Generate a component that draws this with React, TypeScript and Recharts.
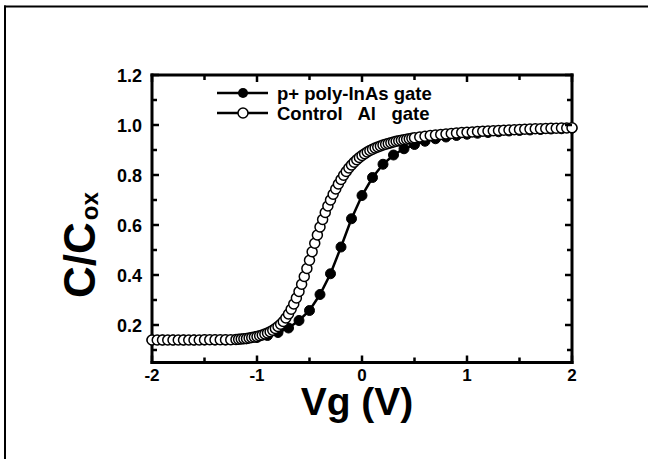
import { LineChart, Line, XAxis, YAxis } from 'recharts';

const FONT = '"Liberation Sans", Arial, Helvetica, sans-serif';

// tick positions and labels
const xMajorTicks = [-2, -1, 0, 1, 2];
const xMinorTicks = [-1.5, -0.5, 0.5, 1.5];
const xTickLabels = ['-2', '-1', '0', '1', '2'];
const yMajorTicks = [0.2, 0.4, 0.6, 0.8, 1.0, 1.2];
const yMinorTicks = [0.1, 0.3, 0.5, 0.7, 0.9, 1.1];
const yTickLabels = ['0.2', '0.4', '0.6', '0.8', '1.0', '1.2'];

// p+ poly-InAs gate (filled circles)
const pPlusVg = [
  -2.0, -1.9, -1.8, -1.7, -1.6, -1.5, -1.4, -1.3, -1.2, -1.1,
  -1.0, -0.9, -0.8, -0.7, -0.6, -0.5, -0.4, -0.3, -0.2, -0.1,
  0.0, 0.1, 0.2, 0.3, 0.4, 0.5, 0.6, 0.7, 0.8, 0.9,
  1.0, 1.1, 1.2, 1.3, 1.4, 1.5, 1.6, 1.7, 1.8, 1.9, 2.0,
];
const pPlusC = [
  0.14, 0.14, 0.14, 0.14, 0.14, 0.14, 0.14, 0.14, 0.142, 0.145,
  0.15, 0.158, 0.17, 0.188, 0.218, 0.258, 0.322, 0.405, 0.512, 0.625,
  0.718, 0.79, 0.843, 0.88, 0.905, 0.922, 0.935, 0.945, 0.952, 0.958,
  0.963, 0.967, 0.97, 0.973, 0.976, 0.978, 0.98, 0.982, 0.984, 0.985, 0.987,
];

// Control Al gate (open circles)
const controlVg = [
  -2.0, -1.95, -1.9, -1.85, -1.8, -1.75, -1.7, -1.65, -1.6, -1.55, -1.5, -1.45, -1.4, -1.35, -1.3, -1.25,
  -1.2, -1.175, -1.15, -1.125, -1.1, -1.075, -1.05, -1.025, -1.0, -0.975, -0.95, -0.925, -0.9, -0.875, -0.85, -0.825,
  -0.8, -0.775, -0.75, -0.725, -0.7, -0.675, -0.65, -0.625, -0.6, -0.575, -0.55, -0.525, -0.5, -0.475, -0.45, -0.425,
  -0.4, -0.375, -0.35, -0.325, -0.3, -0.275, -0.25, -0.225, -0.2, -0.175, -0.15, -0.125, -0.1, -0.075, -0.05, -0.025,
  0, 0.025, 0.05, 0.075, 0.1, 0.125, 0.15, 0.175, 0.2, 0.225, 0.25, 0.275, 0.3, 0.325, 0.35, 0.375, 0.4, 0.425, 0.45, 0.475, 0.5,
  0.55, 0.6, 0.65, 0.7, 0.75, 0.8, 0.85, 0.9, 0.95, 1.0, 1.05, 1.1, 1.15, 1.2, 1.25,
  1.3, 1.35, 1.4, 1.45, 1.5, 1.55, 1.6, 1.65, 1.7, 1.75, 1.8, 1.85, 1.9, 1.95, 2.0,
];
const controlC = [
  0.14, 0.14, 0.14, 0.14, 0.14, 0.14, 0.14, 0.14, 0.14, 0.14, 0.141, 0.141, 0.141, 0.141, 0.141, 0.141,
  0.142, 0.143, 0.144, 0.145, 0.146, 0.148, 0.15, 0.152, 0.154, 0.157, 0.16, 0.164, 0.168, 0.173, 0.179, 0.186,
  0.194, 0.203, 0.214, 0.228, 0.244, 0.263, 0.284, 0.308, 0.334, 0.363, 0.394, 0.426, 0.459, 0.493, 0.527, 0.56,
  0.592, 0.622, 0.65, 0.676, 0.7, 0.723, 0.744, 0.764, 0.782, 0.799, 0.814, 0.828, 0.84, 0.851, 0.861, 0.87,
  0.878, 0.885, 0.892, 0.898, 0.903, 0.908, 0.912, 0.916, 0.92, 0.923, 0.926, 0.929, 0.932, 0.935, 0.937, 0.939, 0.941, 0.943, 0.945, 0.947, 0.949,
  0.952, 0.955, 0.958, 0.96, 0.962, 0.964, 0.966, 0.968, 0.97, 0.971, 0.972, 0.974, 0.975, 0.976, 0.977,
  0.978, 0.979, 0.98, 0.981, 0.982, 0.983, 0.984, 0.985, 0.985, 0.986, 0.987, 0.987, 0.988, 0.988, 0.989,
];

const pPlusData = pPlusVg.map((vg, i) => ({ vg, c: pPlusC[i] }));
const controlData = controlVg.map((vg, i) => ({ vg, c: controlC[i] }));

const xTicks = [...xMajorTicks, ...xMinorTicks].sort((a, b) => a - b);
const yTicks = [...yMajorTicks, ...yMinorTicks].sort((a, b) => a - b);

const majorIndex = (v: number, majors: number[]) => majors.findIndex((m) => Math.abs(m - v) < 1e-6);

const TICK_W = 2.5;
const MAJOR_LEN = 7;
const MINOR_LEN = 5;

const BottomTick = (props: any) => {
  const { x, y, payload } = props;
  const i = majorIndex(payload.value, xMajorTicks);
  return (
    <g>
      <line x1={x} x2={x} y1={y} y2={y - (i >= 0 ? MAJOR_LEN : MINOR_LEN)} stroke="#000" strokeWidth={TICK_W} />
      {i >= 0 && (
        <text x={x} y={y + 18} textAnchor="middle" fontFamily={FONT} fontWeight="bold" fontSize={17} fill="#000">
          {xTickLabels[i]}
        </text>
      )}
    </g>
  );
};

const TopTick = (props: any) => {
  const { x, y, payload } = props;
  const i = majorIndex(payload.value, xMajorTicks);
  return <line x1={x} x2={x} y1={y} y2={y + (i >= 0 ? MAJOR_LEN : MINOR_LEN)} stroke="#000" strokeWidth={TICK_W} />;
};

const LeftTick = (props: any) => {
  const { x, y, payload } = props;
  const i = majorIndex(payload.value, yMajorTicks);
  return (
    <g>
      <line x1={x} x2={x + (i >= 0 ? MAJOR_LEN : MINOR_LEN)} y1={y} y2={y} stroke="#000" strokeWidth={TICK_W} />
      {i >= 0 && (
        <text x={x - 10} y={y + 6.5} textAnchor="end" fontFamily={FONT} fontWeight="bold" fontSize={18} fill="#000">
          {yTickLabels[i]}
        </text>
      )}
    </g>
  );
};

const RightTick = (props: any) => {
  const { x, y, payload } = props;
  const i = majorIndex(payload.value, yMajorTicks);
  return <line x1={x} x2={x - (i >= 0 ? MAJOR_LEN : MINOR_LEN)} y1={y} y2={y} stroke="#000" strokeWidth={TICK_W} />;
};

const axisLine = { stroke: '#000', strokeWidth: 3, strokeLinecap: 'square' as const };

const xAxisCommon = {
  type: 'number' as const,
  dataKey: 'vg',
  domain: [-2, 2] as [number, number],
  ticks: xTicks,
  interval: 0 as const,
  height: 1,
  tickSize: 0,
  tickMargin: 0,
  tickLine: false,
  axisLine,
};

const yAxisCommon = {
  type: 'number' as const,
  dataKey: 'c',
  domain: [0.05, 1.2] as [number, number],
  ticks: yTicks,
  interval: 0 as const,
  width: 1,
  tickSize: 0,
  tickMargin: 0,
  tickLine: false,
  axisLine,
};

export default function App() {
  return (
    <div style={{ position: 'absolute', left: 0, top: 0, width: 648, height: 459, background: '#fff' }}>
      <LineChart width={648} height={459} margin={{ top: 74, right: 75, bottom: 95.5, left: 151 }}>
        <XAxis xAxisId="bottom" orientation="bottom" {...xAxisCommon} tick={BottomTick} />
        <XAxis xAxisId="top" orientation="top" {...xAxisCommon} tick={TopTick} />
        <YAxis yAxisId="left" orientation="left" {...yAxisCommon} tick={LeftTick} />
        <YAxis yAxisId="right" orientation="right" {...yAxisCommon} tick={RightTick} />
        <Line
          xAxisId="top"
          yAxisId="right"
          data={pPlusData}
          dataKey="c"
          stroke="none"
          dot={false}
          activeDot={false}
          legendType="none"
          isAnimationActive={false}
        />
        <Line
          xAxisId="bottom"
          yAxisId="left"
          data={pPlusData}
          dataKey="c"
          type="linear"
          stroke="#000"
          strokeWidth={2.5}
          dot={{ r: 5, fill: '#000', stroke: '#000', strokeWidth: 1 }}
          activeDot={false}
          isAnimationActive={false}
        />
        <Line
          xAxisId="bottom"
          yAxisId="left"
          data={controlData}
          dataKey="c"
          type="linear"
          stroke="#000"
          strokeWidth={2}
          dot={{ r: 5, fill: '#fff', stroke: '#000', strokeWidth: 1.5 }}
          activeDot={false}
          isAnimationActive={false}
        />
      </LineChart>
      <svg
        width={648}
        height={459}
        style={{ position: 'absolute', left: 0, top: 0, pointerEvents: 'none' }}
        fontFamily={FONT}
        fontWeight="bold"
      >
        {/* outer frame (top and left only) */}
        <line x1={4} x2={648} y1={6.5} y2={6.5} stroke="#000" strokeWidth={2} />
        <line x1={5} x2={5} y1={5.5} y2={459} stroke="#000" strokeWidth={2} />

        {/* legend */}
        <line x1={217} x2={268} y1={93} y2={93} stroke="#000" strokeWidth={2.5} />
        <circle cx={243} cy={93} r={5} fill="#000" />
        <text x={277} y={99.5} fontSize={18.5} fill="#000">p+ poly-InAs gate</text>
        <line x1={217} x2={268} y1={113} y2={113} stroke="#000" strokeWidth={2.5} />
        <circle cx={243} cy={113} r={5} fill="#fff" stroke="#000" strokeWidth={1.5} />
        <text x={277} y={119.5} fontSize={18.5} fill="#000" style={{ whiteSpace: 'pre' }}>
          {'Control   Al   gate'}
        </text>

        {/* axis titles */}
        <text x={357} y={415} textAnchor="middle" fontSize={39} fill="#000">Vg (V)</text>
        <text transform="translate(95,298) rotate(-90)" fontSize={44} fill="#000">
          C/C
          <tspan fontSize={24} dx={2} dy={3}>ox</tspan>
        </text>
      </svg>
    </div>
  );
}
